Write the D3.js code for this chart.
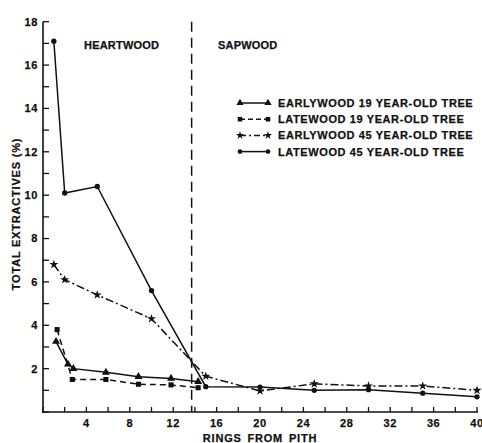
<!DOCTYPE html>
<html>
<head>
<meta charset="utf-8">
<script src="https://cdn.jsdelivr.net/npm/d3@7"></script>
<style>
	body { margin: 0; background: #fff; }
	text { font-family: "Liberation Sans", Arial, sans-serif; font-weight: bold; fill: #111; stroke: #111; stroke-width: 0.25px; }
</style>
</head>
<body>
<script>
// values (rings from pith, % total extractives)
var earlywood19 = [[1.2, 3.25], [2.3, 2.2], [2.8, 2.0], [5.8, 1.83], [8.8, 1.63], [11.8, 1.55], [14.3, 1.4]]
var latewood19 = [[1.3, 3.8], [2.7, 1.5], [5.8, 1.5], [8.8, 1.28], [11.8, 1.25], [14.3, 1.12]]
var earlywood45 = [[1, 6.8], [2, 6.1], [5, 5.4], [10, 4.3], [15, 1.65], [20, 0.97], [25, 1.3], [30, 1.2], [35, 1.2], [40, 1.0]]
var latewood45 = [[1, 17.1], [2, 10.1], [5, 10.4], [10, 5.6], [15, 1.17], [20, 1.15], [25, 1.0], [30, 1.03], [35, 0.87], [40, 0.7]]
var seriesNames = ["EARLYWOOD 19 YEAR-OLD TREE", "LATEWOOD 19 YEAR-OLD TREE", "EARLYWOOD 45 YEAR-OLD TREE", "LATEWOOD 45 YEAR-OLD TREE"]
var boundary = 13.7
var xTicks = d3.range(0, 41, 2)
var xLabels = d3.range(4, 41, 4)
var yTicks = d3.range(0, 19, 1)
var yLabels = d3.range(2, 19, 2)

var width = 482, height = 443
var svg = d3.select("body").append("svg")
	.attr("width", width)
	.attr("height", height)

var x = d3.scaleLinear().domain([0, 40]).range([43, 477])
var y = d3.scaleLinear().domain([0, 18]).range([412, 21.7])

var series = [
	{ name: seriesNames[0], data: earlywood19, dash: null, legendDash: null, symbol: d3.symbolTriangle, size: 28 },
	{ name: seriesNames[1], data: latewood19, dash: "6,4", legendDash: "5,3", symbol: d3.symbolSquare, size: 26 },
	{ name: seriesNames[2], data: earlywood45, dash: "8,3,2,3", legendDash: "6,3,2,3", symbol: d3.symbolStar, size: 26 },
	{ name: seriesNames[3], data: latewood45, dash: null, legendDash: null, symbol: d3.symbolCircle, size: 22 }
]

// axes (ticks point inward)
var xAxis = svg.append("g").attr("transform", "translate(0," + y(0) + ")")
xAxis.append("line").attr("x1", x(0) - 1).attr("x2", x(40) + 1).attr("stroke", "#111").attr("stroke-width", 1.6)
xAxis.selectAll(".xt").data(xTicks).enter().append("line")
	.attr("x1", x).attr("x2", x).attr("y1", 0).attr("y2", -5)
	.attr("stroke", "#111").attr("stroke-width", 1.3)
xAxis.selectAll(".xl").data(xLabels).enter().append("text")
	.attr("x", x).attr("y", 14.5).attr("text-anchor", "middle")
	.style("font-size", "11px").style("letter-spacing", "0.6px").text((d) => d)

var yAxis = svg.append("g").attr("transform", "translate(" + x(0) + ",0)")
yAxis.append("line").attr("y1", y(0) + 1).attr("y2", y(18)).attr("stroke", "#111").attr("stroke-width", 1.6)
yAxis.selectAll(".yt").data(yTicks).enter().append("line")
	.attr("y1", y).attr("y2", y).attr("x1", 0).attr("x2", 6)
	.attr("stroke", "#111").attr("stroke-width", 1.3)
yAxis.selectAll(".yl").data(yLabels).enter().append("text")
	.attr("x", -5).attr("y", y).attr("dy", "0.36em").attr("text-anchor", "end")
	.style("font-size", "11px").style("letter-spacing", "0.6px").text((d) => d)

svg.append("text")
	.attr("transform", "translate(20," + 214 + ") rotate(-90)")
	.attr("text-anchor", "middle")
	.style("font-size", "11px").style("letter-spacing", "0.8px")
	.text("TOTAL EXTRACTIVES (%)")
svg.append("text")
	.attr("x", 260).attr("y", 442)
	.attr("text-anchor", "middle")
	.style("font-size", "11px").style("letter-spacing", "0.8px")
	.style("word-spacing", "2px")
	.text("RINGS FROM PITH")

// heartwood / sapwood boundary
svg.append("line")
	.attr("x1", x(boundary)).attr("x2", x(boundary))
	.attr("y1", y(18)).attr("y2", y(0))
	.attr("stroke", "#111").attr("stroke-width", 1.5)
	.attr("stroke-dasharray", "10,6")
svg.append("text").attr("x", 84).attr("y", 48.5).style("font-size", "11px").style("letter-spacing", "0.2px").text("HEARTWOOD")
svg.append("text").attr("x", 218).attr("y", 48.5).style("font-size", "11px").style("letter-spacing", "0.2px").text("SAPWOOD")

var line = d3.line().x((d) => x(d[0])).y((d) => y(d[1]))

series.forEach((s) => {
	svg.append("path")
		.datum(s.data)
		.attr("d", line)
		.attr("fill", "none")
		.attr("stroke", "#111")
		.attr("stroke-width", 1.5)
		.attr("stroke-dasharray", s.dash)
	svg.selectAll(null).data(s.data).enter().append("path")
		.attr("d", d3.symbol().type(s.symbol).size(s.size))
		.attr("transform", (d) => "translate(" + x(d[0]) + "," + y(d[1]) + ")")
		.attr("fill", "#111")
})

// legend
var legend = svg.append("g")
series.forEach((s, i) => {
	var ly = 103 + i * 16.2
	legend.append("line")
		.attr("x1", 240).attr("x2", 268).attr("y1", ly).attr("y2", ly)
		.attr("stroke", "#111").attr("stroke-width", 1.5)
		.attr("stroke-dasharray", s.legendDash)
	legend.selectAll(null).data([240, 268]).enter().append("path")
		.attr("d", d3.symbol().type(s.symbol).size(s.size * 0.8))
		.attr("transform", (d) => "translate(" + d + "," + ly + ")")
		.attr("fill", "#111")
	legend.append("text")
		.attr("x", 278).attr("y", ly).attr("dy", "0.36em")
		.style("font-size", "11px").style("letter-spacing", "0.6px")
		.text(s.name)
})
</script>
</body>
</html>
